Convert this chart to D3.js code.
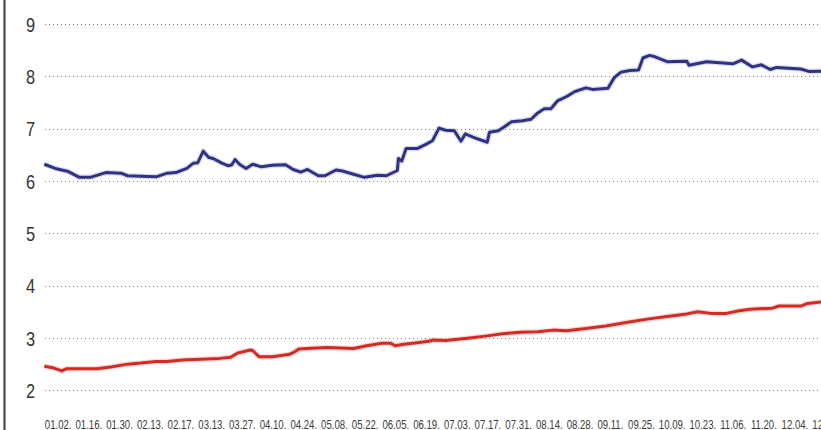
<!DOCTYPE html>
<html>
<head>
<meta charset="utf-8">
<script src="https://cdn.jsdelivr.net/npm/d3@7"></script>
<style>
html,body{margin:0;padding:0;background:#fff;overflow:hidden}
svg{display:block}
</style>
</head>
<body>
<svg id="chart" width="821" height="430"></svg>
<script>
// ---- data (day offsets counted from 01.02.) ----
const tickLabels = ["01.02.","01.16.","01.30.","02.13.","02.17.","03.13.","03.27.","04.10.","04.24.","05.08.","05.22.","06.05.","06.19.","07.03.","07.17.","07.31.","08.14.","08.28.","09.11.","09.25.","10.09.","10.23.","11.06.","11.20.","12.04.","12.18."];
const tickDays = tickLabels.map((d, i) => i * 14);
const yTicks = [2,3,4,5,6,7,8,9];

const blueDays = [0,5,11,16,21,28,35,38,51,56,60,65,68,70,72.5,75,77,81,84,85.5,87,89,92,95,99,104,110,113.5,117,120,125,128,133,136,141,146,152,156,161,161.5,163,165,170,174,177,180,183,187,190,192,196,202,203,207,210,213,218,222,225,228,231,234,238,242,247,250,257,260,263,267,271,273,276,278,284,293,294,302,314,318,323,327,331,334,345,349,355];
const blueValues = [6.32,6.24,6.18,6.07,6.07,6.16,6.15,6.10,6.08,6.15,6.16,6.24,6.34,6.35,6.57,6.45,6.43,6.34,6.29,6.31,6.41,6.32,6.24,6.32,6.27,6.30,6.31,6.22,6.17,6.22,6.10,6.10,6.21,6.19,6.13,6.07,6.11,6.10,6.20,6.43,6.38,6.62,6.62,6.70,6.77,7.01,6.97,6.96,6.76,6.90,6.83,6.74,6.93,6.96,7.04,7.13,7.15,7.18,7.30,7.38,7.38,7.53,7.61,7.71,7.78,7.75,7.77,7.98,8.08,8.11,8.12,8.35,8.40,8.38,8.28,8.29,8.21,8.28,8.24,8.31,8.18,8.22,8.13,8.17,8.14,8.09,8.10];

const redDays = [0,4,8,10,24,31,38,44,51,56,63,74,80,85,88,94,95,98,104,112,114,116,120,129,141,147,154,158,160,164,170,176,177,183,194,202,209,217,225,232,238,247,256,266,275,284,293,298,304,311,317,322,332,335,345,348,355];
const redValues = [2.46,2.43,2.37,2.41,2.41,2.45,2.50,2.52,2.55,2.55,2.58,2.60,2.61,2.63,2.71,2.77,2.76,2.64,2.64,2.69,2.73,2.79,2.80,2.82,2.80,2.85,2.90,2.90,2.85,2.88,2.91,2.94,2.96,2.95,3.00,3.04,3.08,3.11,3.12,3.15,3.14,3.18,3.23,3.30,3.36,3.41,3.46,3.50,3.47,3.47,3.52,3.55,3.57,3.61,3.61,3.66,3.69];

// ---- layout ----
const W = 821, H = 430;
const FONT = "'Liberation Sans Narrow','Arial Narrow','Liberation Sans',Arial,sans-serif";
const svg = d3.select("#chart");
const x = d3.scaleLinear().domain([0, 14]).range([44.3, 75.0]);
const y = d3.scaleLinear().domain([2, 9]).range([390.3, 24]);

// left axis bar
svg.append("line")
  .attr("x1", 4.5).attr("x2", 4.5).attr("y1", 0).attr("y2", H)
  .attr("stroke", "#4a4a4a").attr("stroke-width", 2.2);

// gridlines
svg.append("g").selectAll("line").data(yTicks).join("line")
  .attr("x1", 45).attr("x2", W)
  .attr("y1", d => Math.round(y(d)) + 0.5).attr("y2", d => Math.round(y(d)) + 0.5)
  .attr("stroke", "#777").attr("stroke-width", 1)
  .attr("stroke-dasharray", "1,3");

// y axis labels (condensed)
const yAxis = d3.axisLeft(y).tickValues(yTicks).tickSize(0).tickPadding(0).tickFormat(d3.format("d"));
const gy = svg.append("g").attr("transform", "translate(35,0)").call(yAxis);
gy.select(".domain").remove();
gy.selectAll("text")
  .attr("x", 0)
  .attr("font-family", FONT)
  .attr("font-size", 20).attr("fill", "#333").attr("dy", "0.36em")
  .attr("transform", "scale(0.82,1)");

// x axis labels (condensed)
const xAxis = d3.axisBottom(x).tickValues(tickDays).tickSize(0).tickPadding(0)
  .tickFormat((d, i) => tickLabels[i]);
const gx = svg.append("g").attr("transform", "translate(0,420)").call(xAxis);
gx.select(".domain").remove();
gx.selectAll("text")
  .attr("text-anchor", "start")
  .attr("y", 0).attr("dy", "0.72em")
  .attr("font-family", FONT)
  .attr("font-size", 12).attr("fill", "#3a3a3a")
  .attr("transform", "scale(0.8,1)");

// lines
const line = d3.line().x(d => x(d[0])).y(d => y(d[1])).curve(d3.curveLinear);
const blue = blueDays.map((d, i) => [d, blueValues[i]]);
const red = redDays.map((d, i) => [d, redValues[i]]);

svg.append("path").datum(blue)
  .attr("fill", "none").attr("stroke", "#b8bde0").attr("stroke-width", 5.5)
  .attr("stroke-linejoin", "round").attr("opacity", 0.5).attr("d", line);
svg.append("path").datum(blue)
  .attr("fill", "none").attr("stroke", "#2f3282").attr("stroke-width", 3)
  .attr("stroke-linejoin", "round").attr("d", line);

svg.append("path").datum(red)
  .attr("fill", "none").attr("stroke", "#f2b8b3").attr("stroke-width", 5.5)
  .attr("stroke-linejoin", "round").attr("opacity", 0.5).attr("d", line);
svg.append("path").datum(red)
  .attr("fill", "none").attr("stroke", "#d42a22").attr("stroke-width", 3)
  .attr("stroke-linejoin", "round").attr("d", line);
</script>
</body>
</html>
